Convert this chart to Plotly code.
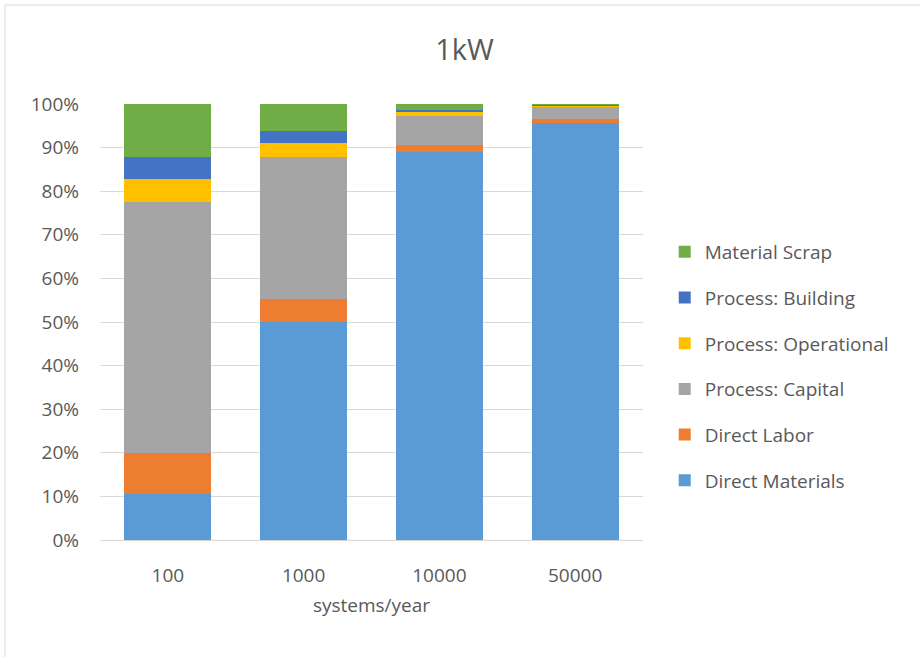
import plotly.graph_objects as go

categories = ["100", "1000", "10000", "50000"]
direct_materials = [10.5, 50.0, 89.1, 95.6]
direct_labor = [9.5, 5.3, 1.6, 1.0]
process_capital = [57.6, 32.5, 6.6, 2.6]
process_operational = [5.2, 3.2, 0.9, 0.5]
process_building = [5.1, 2.7, 0.5, 0.1]
material_scrap = [12.1, 6.3, 1.3, 0.2]

series = [
    ("Direct Materials", direct_materials, "#5b9bd5"),
    ("Direct Labor", direct_labor, "#ed7d31"),
    ("Process: Capital", process_capital, "#a5a5a5"),
    ("Process: Operational", process_operational, "#ffc000"),
    ("Process: Building", process_building, "#4472c4"),
    ("Material Scrap", material_scrap, "#70ad47"),
]

FONT = "Open Sans, Liberation Sans, sans-serif"
fig = go.Figure()
for i, (name, vals, color) in enumerate(series):
    fig.add_trace(go.Bar(
        x=categories, y=[v / 100 for v in vals], name=name,
        marker=dict(color=color, line=dict(width=0)),
        legendgroup=str(i),
        legendrank=100 - i,
    ))

fig.update_layout(
    barmode="stack",
    bargap=0.36,
    width=920, height=657,
    margin=dict(l=100, r=277, t=104, b=117),
    paper_bgcolor="white", plot_bgcolor="white",
    font=dict(family=FONT, color="#595959", size=19),
    title=dict(text="1kW", x=0.505, xanchor="center", y=0.924, yanchor="middle",
               font=dict(size=29, color="#595959", family=FONT)),
    legend=dict(x=1.04, xanchor="left", y=0.398, yanchor="middle",
                traceorder="grouped", tracegroupgap=18,
                font=dict(size=19, color="#595959", family=FONT),
                itemwidth=30),
    xaxis=dict(title=dict(text="systems/year", font=dict(size=19), standoff=11),
               showline=True, linecolor="#d9d9d9", linewidth=1, ticks="",
               tickfont=dict(size=19), ticklabelstandoff=18),
    yaxis=dict(range=[0, 1], tickformat=".0%", dtick=0.1, showgrid=True,
               gridcolor="#d9d9d9", gridwidth=1, zeroline=False, ticks="",
               tickfont=dict(size=19), ticklabelstandoff=20),
    shapes=[dict(type="rect", xref="paper", yref="paper",
                 x0=-95 / 543, x1=1 + 400 / 543, y0=-300 / 436, y1=1 + 99 / 436,
                 line=dict(color="#d9d9d9", width=1))],
)

fig.write_html("out.html")
